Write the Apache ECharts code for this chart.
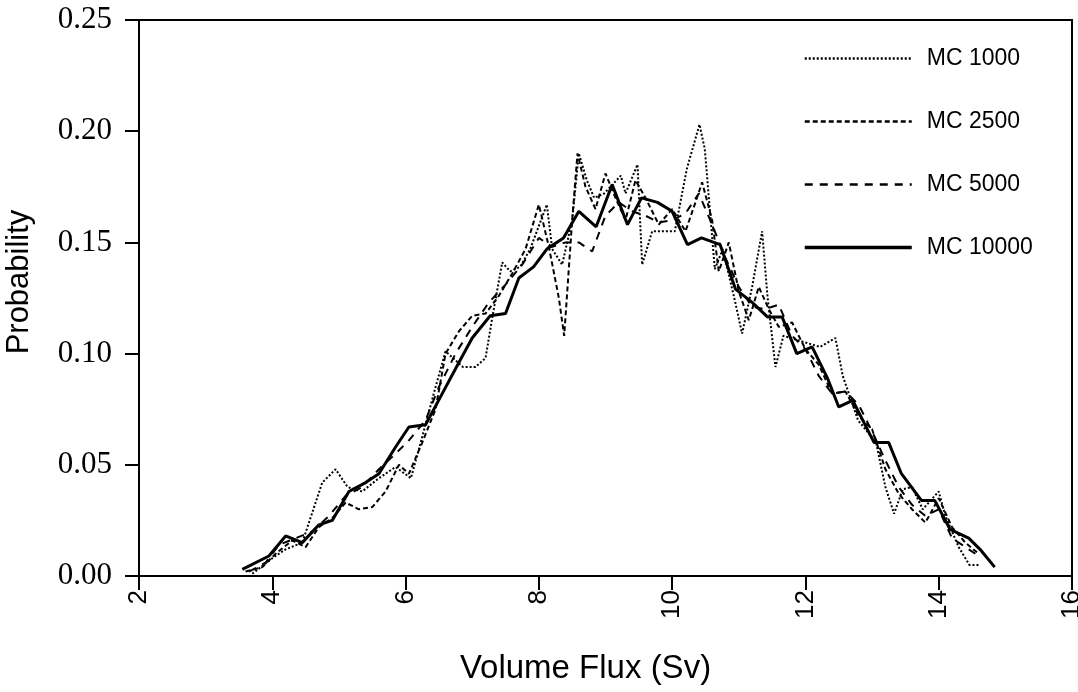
<!DOCTYPE html>
<html>
<head>
<meta charset="utf-8">
<script src="https://cdn.jsdelivr.net/npm/echarts@6/dist/echarts.min.js"></script>
<style>
  html, body { margin: 0; padding: 0; background: #fff; }
  #chart { width: 1078px; height: 692px; }
</style>
</head>
<body>
<div id="chart"></div>
<script>
// series names
const seriesNames = ['MC 1000', 'MC 2500', 'MC 5000', 'MC 10000']

// [flux (Sv), probability]
const mc1000 = [
  [3.7, 0.001], [4.0, 0.008], [4.2, 0.012], [4.45, 0.015], [4.75, 0.042], [4.95, 0.048],
  [5.13, 0.040], [5.35, 0.038], [5.6, 0.044], [5.85, 0.049], [6.08, 0.044], [6.2, 0.057],
  [6.45, 0.085], [6.6, 0.101], [6.86, 0.094], [7.05, 0.094], [7.2, 0.098], [7.3, 0.116],
  [7.45, 0.141], [7.57, 0.137], [7.72, 0.139], [7.87, 0.147], [8.12, 0.167], [8.2, 0.147],
  [8.35, 0.140], [8.5, 0.160], [8.6, 0.190], [8.72, 0.178], [8.83, 0.170], [8.98, 0.172],
  [9.23, 0.180], [9.3, 0.172], [9.48, 0.185], [9.55, 0.140], [9.7, 0.155], [10.04, 0.155],
  [10.22, 0.183], [10.41, 0.203], [10.49, 0.192], [10.64, 0.138], [10.76, 0.147], [10.94, 0.124],
  [11.05, 0.109], [11.2, 0.130], [11.35, 0.155], [11.43, 0.126], [11.55, 0.094], [11.67, 0.108],
  [12.0, 0.105], [12.22, 0.103], [12.45, 0.107], [12.56, 0.090], [12.79, 0.070], [13.06, 0.060],
  [13.2, 0.040], [13.33, 0.028], [13.46, 0.039], [13.6, 0.040], [13.76, 0.030], [14.0, 0.038],
  [14.1, 0.027], [14.3, 0.013], [14.46, 0.005], [14.62, 0.005]
]
const mc2500 = [
  [3.6, 0.002], [3.85, 0.004], [4.05, 0.010], [4.3, 0.016], [4.5, 0.013], [4.7, 0.022],
  [4.9, 0.026], [5.1, 0.033], [5.3, 0.030], [5.5, 0.031], [5.7, 0.038], [5.9, 0.050],
  [6.05, 0.046], [6.25, 0.060], [6.45, 0.075], [6.6, 0.100], [6.8, 0.110], [7.0, 0.117],
  [7.2, 0.118], [7.4, 0.126], [7.6, 0.136], [7.8, 0.147], [8.0, 0.167], [8.15, 0.148],
  [8.3, 0.125], [8.38, 0.108], [8.5, 0.160], [8.58, 0.190], [8.7, 0.175], [8.85, 0.165],
  [9.0, 0.181], [9.15, 0.170], [9.3, 0.160], [9.45, 0.178], [9.6, 0.170], [9.8, 0.158],
  [10.0, 0.165], [10.2, 0.155], [10.35, 0.168], [10.45, 0.177], [10.6, 0.160], [10.7, 0.137],
  [10.85, 0.150], [11.0, 0.128], [11.15, 0.115], [11.3, 0.130], [11.45, 0.120], [11.6, 0.112],
  [11.8, 0.114], [12.0, 0.102], [12.2, 0.095], [12.4, 0.082], [12.6, 0.083], [12.8, 0.072],
  [13.0, 0.066], [13.2, 0.048], [13.4, 0.037], [13.6, 0.030], [13.8, 0.024], [14.0, 0.035],
  [14.2, 0.022], [14.4, 0.015], [14.6, 0.010]
]
const mc5000 = [
  [3.65, 0.002], [3.9, 0.006], [4.1, 0.014], [4.35, 0.017], [4.6, 0.020], [4.85, 0.027],
  [5.1, 0.036], [5.35, 0.040], [5.6, 0.048], [5.85, 0.055], [6.05, 0.061], [6.3, 0.070],
  [6.5, 0.085], [6.75, 0.100], [7.0, 0.112], [7.25, 0.123], [7.5, 0.131], [7.75, 0.140],
  [8.0, 0.152], [8.2, 0.148], [8.4, 0.150], [8.6, 0.150], [8.8, 0.146], [9.0, 0.162],
  [9.2, 0.168], [9.4, 0.164], [9.6, 0.162], [9.8, 0.159], [10.0, 0.160], [10.2, 0.163],
  [10.4, 0.172], [10.6, 0.158], [10.8, 0.143], [11.0, 0.130], [11.2, 0.121], [11.4, 0.120],
  [11.6, 0.122], [11.8, 0.108], [12.0, 0.102], [12.2, 0.090], [12.4, 0.082], [12.6, 0.083],
  [12.8, 0.077], [13.0, 0.065], [13.2, 0.052], [13.4, 0.040], [13.6, 0.032], [13.8, 0.027],
  [14.0, 0.030], [14.2, 0.017], [14.4, 0.013], [14.6, 0.009]
]
const mc10000 = [
  [3.55, 0.003], [3.95, 0.009], [4.2, 0.018], [4.45, 0.015], [4.7, 0.023], [4.9, 0.025],
  [5.15, 0.038], [5.4, 0.042], [5.6, 0.046], [5.85, 0.058], [6.05, 0.067], [6.3, 0.068],
  [6.55, 0.082], [6.8, 0.096], [7.0, 0.107], [7.27, 0.117], [7.5, 0.118], [7.7, 0.134],
  [7.92, 0.139], [8.12, 0.147], [8.37, 0.152], [8.6, 0.164], [8.86, 0.157], [9.1, 0.176],
  [9.33, 0.158], [9.54, 0.170], [9.78, 0.168], [10.0, 0.164], [10.23, 0.149], [10.44, 0.152],
  [10.72, 0.149], [10.95, 0.129], [11.2, 0.123], [11.43, 0.1165], [11.65, 0.1165], [11.87, 0.100],
  [12.1, 0.103], [12.33, 0.089], [12.5, 0.076], [12.71, 0.079], [13.03, 0.060], [13.25, 0.060],
  [13.44, 0.046], [13.74, 0.034], [13.94, 0.034], [14.17, 0.021], [14.45, 0.017], [14.62, 0.012],
  [14.84, 0.004]
]

const seriesData = [mc1000, mc2500, mc5000, mc10000]
// dash pattern / width per series
const lineTypes = [[2, 2], [5, 3], [8, 7], 'solid']
const lineWidths = [2, 2, 2, 3]

const chart = echarts.init(document.getElementById('chart'))

chart.setOption({
  backgroundColor: '#fff',
  animation: false,
  grid: {
    left: 139, right: 6, top: 20, bottom: 116,
    outerBoundsMode: 'none',
    containLabel: false,
    show: true, borderColor: '#000', borderWidth: 2
  },
  legend: {
    orient: 'vertical',
    left: 798, top: 42,
    itemWidth: 107, itemHeight: 12, itemGap: 40,
    itemStyle: { color: 'rgba(0,0,0,0)', borderWidth: 0 },
    data: seriesNames.map((n, i) => ({
      name: n,
      lineStyle: { color: '#000', width: lineWidths[i] + 0.5, type: lineTypes[i] }
    })),
    textStyle: { fontFamily: 'Liberation Sans', fontSize: 23, color: '#000', padding: [0, 0, 0, 10] }
  },
  xAxis: {
    type: 'value',
    min: 2, max: 16, interval: 2,
    name: 'Volume Flux (Sv)',
    nameLocation: 'middle',
    nameGap: 76,
    nameTextStyle: { fontFamily: 'Liberation Sans', fontSize: 33, color: '#000', padding: [0, 40, 0, 0] },
    axisLine: { lineStyle: { color: '#000', width: 2 } },
    axisTick: { length: 14, lineStyle: { color: '#000', width: 2 } },
    axisLabel: { rotate: 90, margin: 14, fontFamily: 'Liberation Sans', fontSize: 26, color: '#000' },
    splitLine: { show: false }
  },
  yAxis: {
    type: 'value',
    min: 0, max: 0.25, interval: 0.05,
    name: 'Probability',
    nameLocation: 'middle',
    nameGap: 104,
    nameTextStyle: { fontFamily: 'Liberation Sans', fontSize: 31, color: '#000', padding: [0, 0, 0, 32] },
    axisLine: { lineStyle: { color: '#000', width: 2 } },
    axisTick: { length: 14, lineStyle: { color: '#000', width: 2 } },
    axisLabel: {
      margin: 27, fontFamily: 'Liberation Serif', fontSize: 31, color: '#000',
      formatter: v => v.toFixed(2)
    },
    splitLine: { show: false }
  },
  series: seriesNames.map((name, i) => ({
    name,
    type: 'line',
    data: seriesData[i],
    showSymbol: false,
    symbol: 'none',
    color: '#000',
    lineStyle: { color: '#000', width: lineWidths[i], type: lineTypes[i] },
    z: 10 - i
  }))
})
</script>
</body>
</html>
